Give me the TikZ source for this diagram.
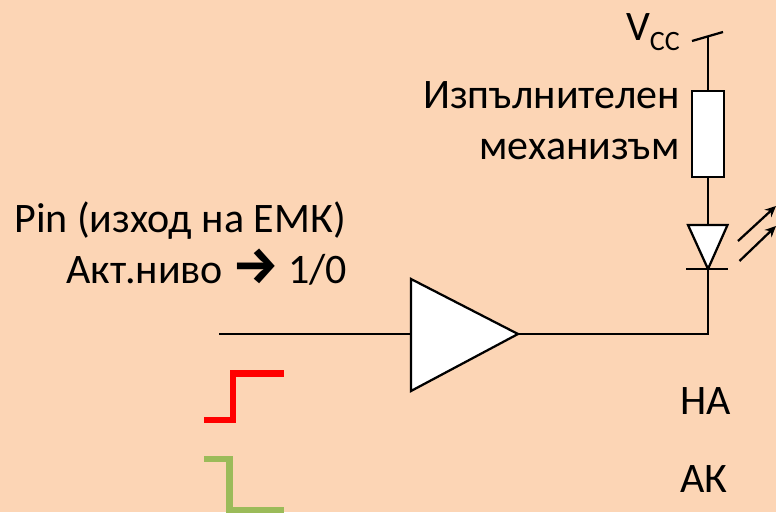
\documentclass[tikz,border=0pt]{standalone}
\usepackage{fontspec}
\setmainfont{Carlito}
\newfontfamily\symfont{Fira Sans}
\usetikzlibrary{arrows.meta}
\definecolor{bg}{RGB}{252,213,181}
\definecolor{stepred}{RGB}{255,0,0}
\definecolor{stepgreen}{RGB}{155,187,89}
\tikzset{
  x=1pt,y=-1pt,
  wire/.style={draw=black,line width=2.25pt},
  part/.style={draw=black,fill=white,line width=2.25pt},
  lbl/.style={inner sep=0pt,font=\fontsize{42}{48}\selectfont,text=black},
  ray/.style={draw=black,line width=2.25pt,-{Stealth[length=11pt,width=10pt]}},
  edge red/.style={draw=stepred,line width=6.5pt},
  edge green/.style={draw=stepgreen,line width=6.5pt},
}
\begin{document}
\begin{tikzpicture}
\useasboundingbox[fill=bg] (0,0) rectangle (776,512);
% coordinates
\coordinate (tickL) at (692,41);
\coordinate (tickR) at (723,32);
\coordinate (vcc) at (708,36.5);
\coordinate (rt) at (708,91);
\coordinate (rb) at (708,177);
\coordinate (dt) at (708,225);
\coordinate (dk) at (708,269);
\coordinate (corner) at (708,334);
\coordinate (in) at (219,334);
\coordinate (bufin) at (411,334);
\coordinate (bufout) at (518,334);
\coordinate (barL) at (686,269);
\coordinate (barR) at (728,269);
\coordinate (r1s) at (738,241);
\coordinate (r1e) at (776,206);
\coordinate (r2s) at (739.5,261);
\coordinate (r2e) at (776,226);
% wires
\draw[wire] (tickL) -- (tickR);
\draw[wire] (vcc) -- (rt);
\draw[wire] (rb) -- (dt);
\draw[wire] (dk) -- (corner) -- (bufout);
\draw[wire] (in) -- (bufin);
% parts
\draw[part] (692,91) rectangle (724,177);
\draw[part,line join=miter] (688,225) -- (727.5,225) -- (dk) -- cycle;
\draw[wire] (barL) -- (barR);
\draw[part,line join=miter] (411,279) -- (411,391) -- (bufout) -- cycle;
\draw[ray] (r1s) -- (r1e);
\draw[ray] (r2s) -- (r2e);
% steps
\draw[edge red] (204,420) -- (233,420) -- (233,373.5) -- (284,373.5);
\draw[edge green] (204,459) -- (229.5,459) -- (229.5,510) -- (284,510);
% labels
\node[lbl,anchor=base east] (vcclabel) at (680,40) {V\raisebox{-10pt}{\fontsize{28}{32}\selectfont CC}};
\node[lbl,anchor=base east] (act1) at (680,108) {Изпълнителен};
\node[lbl,anchor=base east] (act2) at (680,159.5) {механизъм};
\node[lbl,anchor=base east] (pin1) at (346,232.5) {Pin (изход на ЕМК)};
\node[lbl,anchor=base east] (pin2) at (347,283) {Акт.ниво\makebox[65pt]{\symfont\fontsize{52}{56}\selectfont\bfseries →}1/0};
\node[lbl,anchor=base west] (ha) at (680,414.5) {НА};
\node[lbl,anchor=base west] (ak) at (680,492) {АК};
\end{tikzpicture}
\end{document}
